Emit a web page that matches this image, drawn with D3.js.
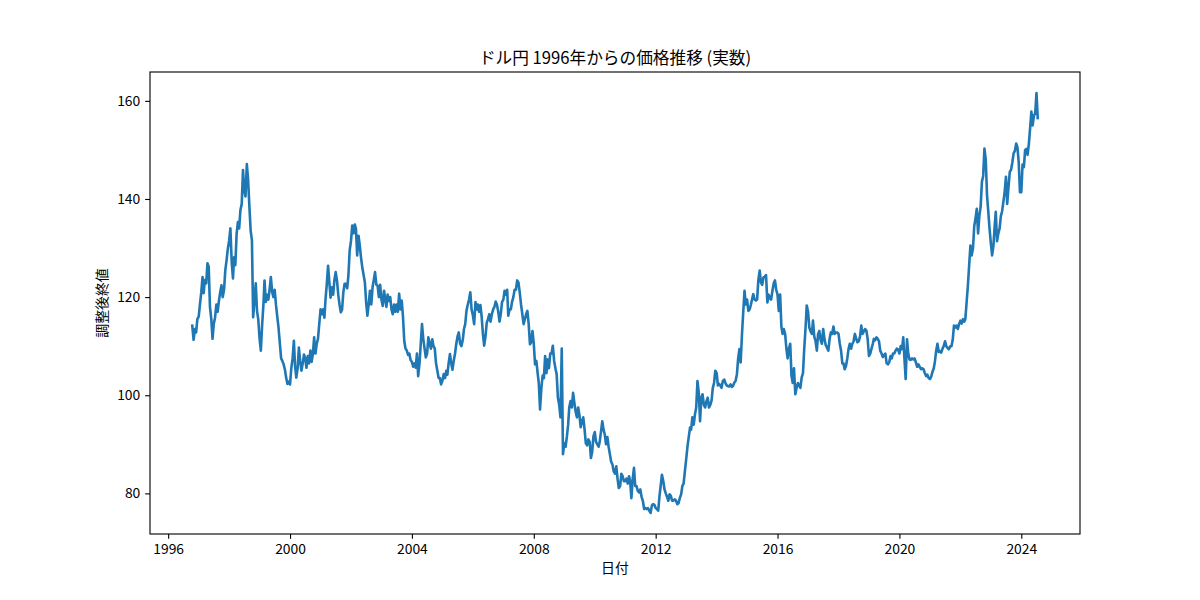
<!DOCTYPE html>
<html>
<head>
<meta charset="utf-8">
<script src="https://cdn.jsdelivr.net/npm/d3@7"></script>
<style>
  html, body { margin: 0; padding: 0; background: #fff; }
  svg { display: block; }
  text { font-family: "Noto Sans CJK JP", "Noto Sans", sans-serif; }
</style>
</head>
<body>
<svg id="chart" width="1200" height="600"></svg>
<script>
// ---- Data: semi-monthly samples (1st and 16th of each month), USD/JPY ----
const chartTitle = "ドル円 1996年からの価格推移 (実数)";
const xLabel = "日付";
const yLabel = "調整後終値";
const xTickYears = [1996, 2000, 2004, 2008, 2012, 2016, 2020, 2024];
const yTickValues = [80, 100, 120, 140, 160];

const years = [1996,1997,1998,1999,2000,2001,2002,2003,2004,2005,2006,2007,2008,2009,2010,
               2011,2012,2013,2014,2015,2016,2017,2018,2019,2020,2021,2022,2023,2024];
// first half-month slot of the first year (Oct 16 1996)
const firstSlot1996 = 19;

const c1996 = [114.2, 111.3, 113.5, 112.8, 115.5];
const c1997 = [116, 118.5, 121, 124.1, 120.8, 123.5, 122.8, 126.9, 126.2, 118, 115.5, 111.5, 114.6, 115.8, 118.5, 117, 119.3, 121, 122.4, 120, 121.5, 125.5, 127.5, 129.8];
const c1998 = [131.5, 134, 127, 123.8, 128.1, 126.5, 133, 135.3, 134, 137.7, 139, 145.9, 141.8, 140.5, 147.1, 144, 138.4, 133.5, 131.6, 115.9, 119.5, 122.8, 117.2, 115.5];
const c1999 = [111.5, 109.1, 114.5, 118.5, 123.4, 119, 120.5, 119.5, 121.5, 124.1, 121, 120, 121.5, 118.5, 116, 113.8, 110.5, 107.5, 107, 106.3, 105.2, 103.5, 102.3, 102.8];
const c2000 = [102.2, 105.5, 107.5, 111.1, 106, 103.6, 105.5, 109.7, 107, 105, 106.5, 108.3, 107.5, 105.6, 108, 106.5, 109.1, 106.8, 108.5, 111.8, 108.5, 110.5, 111.5, 114.5];
const c2001 = [117.5, 116.5, 117.5, 115.8, 119.5, 122.5, 126.4, 123, 119.9, 122, 120.5, 123.5, 125.1, 123.5, 120.5, 118.5, 116.9, 117.5, 121, 122.7, 122.7, 121.8, 124.5, 129.5];
const c2002 = [131.5, 134.6, 133, 134.8, 133.9, 128.5, 132.5, 130.5, 128, 126.1, 124.5, 123, 119, 116.2, 118.5, 121.3, 118.5, 122, 123.5, 125.1, 122.5, 122.3, 120, 122.5];
const c2003 = [119.5, 118.2, 121.3, 119.5, 118, 120.5, 119.2, 120, 117.5, 116.5, 118.5, 117, 118.5, 117, 120.7, 117.5, 119.3, 116, 111.1, 109.5, 109.1, 108.2, 108.5, 107.2];
const c2004 = [106.8, 105.8, 106.5, 105.6, 108.5, 103.9, 106.5, 110.5, 114.5, 111.5, 109.5, 107.7, 108.5, 111.8, 110.5, 109.5, 111.4, 110, 109.5, 106.5, 105, 103.5, 103.5, 102.2];
const c2005 = [103, 104.3, 103.5, 105, 104.2, 106.5, 108.4, 106.5, 105.2, 107, 108.5, 110.5, 112, 112.8, 110.5, 110, 111.2, 113.5, 114.5, 117.2, 118.5, 119.5, 121, 117.5];
const c2006 = [116.3, 114.5, 119, 117.5, 118.5, 117, 118.4, 116, 112.5, 110.1, 112, 114.8, 115.5, 116.5, 115, 116.5, 117.5, 118, 119.1, 118.5, 117, 115, 116.5, 119];
const c2007 = [119.5, 121.3, 120.5, 121.5, 116.2, 117.5, 117.5, 119.1, 120, 121.5, 121.5, 123.4, 123, 121, 118.5, 116.6, 114.5, 115.5, 116.5, 117.2, 114.5, 110.4, 110.8, 113.1];
const c2008 = [110.5, 106.3, 107, 104.5, 102.5, 97.1, 101.5, 104, 103.5, 108, 104.5, 107.3, 105.5, 108.5, 108.5, 110.1, 107, 105.5, 104.3, 99.5, 98, 95.5, 109.5, 88];
const c2009 = [90.2, 89.5, 91.6, 94, 97.5, 98.8, 97.5, 100.5, 98.5, 96.7, 95.5, 97.5, 96, 93.5, 94.7, 95.5, 93, 90.2, 89.8, 91, 90.5, 87.2, 88.5, 91.6];
const c2010 = [92.5, 90.5, 90, 89.5, 90.5, 92.5, 94.7, 93, 92, 90, 91.5, 89.5, 88, 86.5, 85.9, 84.5, 84, 85.5, 83, 81.1, 81.5, 84, 83.5, 82.5];
const c2011 = [82.5, 83, 82, 83.5, 82.5, 79, 83, 85.2, 81.5, 81.5, 80.5, 80.2, 80.8, 79.3, 78.4, 76.8, 77, 76.8, 77, 76.5, 76, 77.5, 77.8, 77.7];
const c2012 = [77, 76.8, 76.5, 79.5, 81.5, 83.8, 82.5, 80.8, 80, 79.3, 78.5, 79.8, 79.5, 78.5, 78.5, 78.8, 78.5, 77.8, 78, 79, 79.8, 81.5, 82, 84.5];
const c2013 = [87, 89.5, 91.5, 93.4, 93, 95.5, 94, 96.1, 97.5, 102.9, 100.5, 94.7, 99.5, 100.2, 98, 97.5, 98.8, 99.5, 97.5, 98, 98.9, 101.5, 102.5, 105];
const c2014 = [104.5, 102, 102.3, 101.9, 101.5, 102.9, 103.2, 102.5, 102, 101.9, 101.8, 102.2, 101.7, 101.9, 102.6, 102.9, 104.3, 107.5, 109.4, 106.7, 112.5, 117, 121.3, 118.5];
const c2015 = [119.5, 117.2, 117.5, 118.5, 119.5, 120.6, 119.5, 119.3, 119.5, 123.5, 125.4, 123, 122.5, 124, 124.2, 124.5, 118.9, 120.5, 119.8, 119.5, 121.3, 122.8, 123.4, 121.5];
const c2016 = [120.5, 117.2, 120.5, 114, 112.5, 113.5, 112.5, 109.5, 107.5, 109.5, 110.5, 104, 102.5, 105.5, 100.2, 101.5, 102.5, 102, 101.5, 103.6, 104.5, 109.5, 113.5, 118.3];
const c2017 = [117, 113.8, 113, 112.5, 115.2, 112, 111, 109.1, 112.5, 113.1, 111.2, 110.5, 113.5, 111.5, 110.2, 109.7, 109.1, 111.5, 112.8, 112.5, 114, 112.5, 112.8, 112.8];
const c2018 = [112.5, 110.5, 109, 106.5, 106.5, 105.3, 106, 107.5, 109.4, 110.5, 109.5, 110.5, 111, 112.5, 111.5, 110.8, 111, 112, 114.2, 112.5, 113, 113.5, 113.2, 111.5];
const c2019 = [108, 108.5, 109.5, 110.5, 111.5, 111.2, 111.8, 111.5, 111, 109.1, 108.5, 107.8, 108.2, 108.5, 106.5, 106.3, 106.7, 108, 107.5, 108.5, 108.5, 109.1, 109.5, 109.3];
const c2020 = [108.5, 110, 109.4, 111.8, 107.5, 103.3, 111.4, 108.5, 107.3, 107.2, 107.5, 107.3, 107.5, 106.7, 105.8, 106.3, 105.8, 105.3, 105.5, 105.3, 104.5, 103.9, 104.2, 103.5];
const c2021 = [103.3, 103.8, 104.8, 105.5, 106.8, 109, 110.5, 108.8, 109, 108.7, 109.5, 110.1, 111, 110, 109.6, 109.4, 110, 110, 111.3, 114.2, 113.8, 114.2, 113.5, 114.5];
const c2022 = [115.2, 114.6, 115.5, 115, 115.5, 118.8, 122.4, 126.5, 130.5, 128.5, 130, 134.5, 136, 138, 133, 136.5, 138.5, 143.5, 144.7, 150.3, 148, 140.8, 137.5, 134];
const c2023 = [131, 128.5, 130.5, 134.5, 137.4, 131.4, 133, 134, 136.5, 137.5, 139.5, 141.5, 144.5, 139, 142.5, 145.5, 146, 147.5, 149.3, 149.8, 151.3, 150.5, 147.5, 141.4];
const c2024 = [141.4, 147, 146.5, 150, 150.2, 149, 151.3, 154.5, 157.8, 155, 157, 157.5, 161.6, 156.5];

const closesByYear = [c1996,c1997,c1998,c1999,c2000,c2001,c2002,c2003,c2004,c2005,c2006,c2007,c2008,
  c2009,c2010,c2011,c2012,c2013,c2014,c2015,c2016,c2017,c2018,c2019,c2020,c2021,c2022,c2023,c2024];

// ---- Build series ----
const series = [];
years.forEach((yr, k) => {
  const offset = (k === 0) ? firstSlot1996 : 0;
  closesByYear[k].forEach((v, i) => {
    const slot = offset + i;
    const month = Math.floor(slot / 2);
    const day = (slot % 2) ? 16 : 1;
    series.push({date: new Date(Date.UTC(yr, month, day)), value: v});
  });
});

// ---- Layout (matplotlib default subplot params for 12x6 in @100dpi) ----
const M = {l: 150, r: 1080, t: 72, b: 534};
const svg = d3.select("#chart");

const xExt = d3.extent(series, d => d.date);
const xSpan = xExt[1] - xExt[0];
const xScale = d3.scaleUtc()
  .domain([new Date(+xExt[0] - 0.05 * xSpan), new Date(+xExt[1] + 0.05 * xSpan)])
  .range([M.l, M.r]);

const yExt = d3.extent(series, d => d.value);
const ySpan = yExt[1] - yExt[0];
const yScale = d3.scaleLinear()
  .domain([yExt[0] - 0.05 * ySpan, yExt[1] + 0.05 * ySpan])
  .range([M.b, M.t]);

const tickLen = 3.5 * 100 / 72;
const tickPad = 3.5 * 100 / 72;
const fontPx = 10 * 100 / 72;

// line (slightly heavier to echo the dense daily trace of the original)
const lineGen = d3.line().x(d => xScale(d.date)).y(d => yScale(d.value));
svg.append("path")
  .datum(series)
  .attr("fill", "none")
  .attr("stroke", "#1f77b4")
  .attr("stroke-width", 2.6)
  .attr("stroke-linejoin", "round")
  .attr("stroke-linecap", "square")
  .attr("d", lineGen);

// axes
const xAxis = d3.axisBottom(xScale)
  .tickValues(xTickYears.map(yr => new Date(Date.UTC(yr, 0, 1))))
  .tickFormat(d3.utcFormat("%Y"))
  .tickSize(tickLen).tickPadding(tickPad);
const yAxis = d3.axisLeft(yScale)
  .tickValues(yTickValues)
  .tickFormat(d3.format("d"))
  .tickSize(tickLen).tickPadding(tickPad);

const gx = svg.append("g").attr("transform", `translate(0,${M.b})`).call(xAxis);
const gy = svg.append("g").attr("transform", `translate(${M.l},0)`).call(yAxis);
[gx, gy].forEach(g => {
  g.select(".domain").remove();
  g.selectAll(".tick line").attr("stroke", "#000").attr("stroke-width", 0.8 * 100 / 72);
  g.selectAll(".tick text").attr("fill", "#000").style("font-size", fontPx + "px")
    .style("font-family", '"Noto Sans CJK JP", sans-serif');
});

// frame (spines)
svg.append("rect")
  .attr("x", M.l).attr("y", M.t)
  .attr("width", M.r - M.l).attr("height", M.b - M.t)
  .attr("fill", "none").attr("stroke", "#000").attr("stroke-width", 0.8 * 100 / 72);

// title & labels
svg.append("text")
  .attr("x", (M.l + M.r) / 2).attr("y", 57)
  .attr("text-anchor", "middle").attr("dominant-baseline", "central")
  .style("font-size", (12 * 100 / 72) + "px")
  .text(chartTitle);

svg.append("text")
  .attr("x", (M.l + M.r) / 2).attr("y", 567)
  .attr("text-anchor", "middle").attr("dominant-baseline", "central")
  .style("font-size", fontPx + "px")
  .text(xLabel);

svg.append("text")
  .attr("transform", `translate(101,${(M.t + M.b) / 2}) rotate(-90)`)
  .attr("text-anchor", "middle").attr("dominant-baseline", "central")
  .style("font-size", fontPx + "px")
  .text(yLabel);
</script>
</body>
</html>
